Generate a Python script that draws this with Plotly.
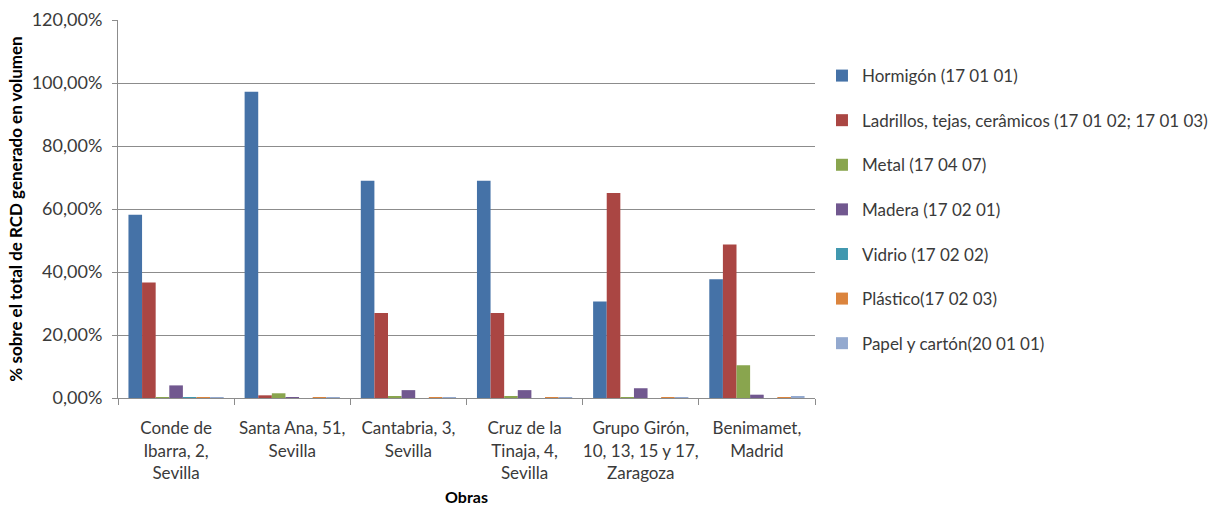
import plotly.graph_objects as go

# Obras (x categories) and share of each waste type in the total RCD volume (%)
obras = [
    "Conde de<br>Ibarra, 2,<br>Sevilla",
    "Santa Ana, 51,<br>Sevilla",
    "Cantabria, 3,<br>Sevilla",
    "Cruz de la<br>Tinaja, 4,<br>Sevilla",
    "Grupo Girón,<br>10, 13, 15 y 17,<br>Zaragoza",
    "Benimamet,<br>Madrid",
]

hormigon = [58.2, 97.2, 69.0, 69.0, 30.6, 37.7]
ladrillos = [36.7, 0.85, 27.0, 27.0, 65.1, 48.7]
metal = [0.2, 1.5, 0.5, 0.5, 0.2, 10.4]
madera = [4.0, 0.3, 2.5, 2.5, 3.1, 1.05]
vidrio = [0.2, 0.0, 0.0, 0.0, 0.0, 0.0]
plastico = [0.2, 0.2, 0.2, 0.2, 0.2, 0.3]
papel = [0.2, 0.2, 0.2, 0.2, 0.2, 0.6]

series = [
    ("Hormigón (17 01 01)", hormigon, "#4572A7"),
    ("Ladrillos, tejas, cerâmicos (17 01 02; 17 01 03)", ladrillos, "#AA4643"),
    ("Metal (17 04 07)", metal, "#89A54E"),
    ("Madera (17 02 01)", madera, "#71588F"),
    ("Vidrio (17 02 02)", vidrio, "#4198AF"),
    ("Plástico(17 02 03)", plastico, "#DB843D"),
    ("Papel y cartón(20 01 01)", papel, "#93A9CF"),
]

FONT = "Lato"
TEXT = "#3a3a3a"
GRID = "#8c8c8c"

fig = go.Figure()
for i, (name, vals, color) in enumerate(series):
    fig.add_trace(go.Bar(
        x=obras,
        y=[v / 100 for v in vals],
        name=name,
        legendgroup=f"g{i}",
        marker=dict(color=color, line=dict(width=0)),
    ))

fig.update_layout(
    width=1225,
    height=506,
    margin=dict(l=118, r=399, t=20, b=108),
    paper_bgcolor="white",
    plot_bgcolor="white",
    barmode="group",
    bargap=0.18,
    bargroupgap=0,
    separators=",.",
    font=dict(family=FONT, size=17, color=TEXT),
    legend=dict(
        x=1.01, y=0.8994, xanchor="left", yanchor="top",
        font=dict(family=FONT, size=17, color=TEXT),
        tracegroupgap=19.5,
        itemwidth=30,
        bgcolor="rgba(0,0,0,0)",
    ),
    xaxis=dict(
        type="category",
        automargin=False,
        tickangle=0,
        showline=True, linecolor=GRID, linewidth=1,
        ticks="outside", tickson="boundaries", ticklen=6, tickcolor=GRID,
        ticklabelstandoff=15,
        showgrid=False,
        tickfont=dict(family=FONT, size=17, color=TEXT),
        title=dict(text="<b>Obras</b>", font=dict(family=FONT, size=16, color="black"), standoff=10),
    ),
    yaxis=dict(
        automargin=False,
        range=[0, 1.2], dtick=0.2, tickformat=".2%",
        showline=True, linecolor=GRID, linewidth=1,
        ticks="outside", ticklen=5, tickcolor=GRID,
        ticklabelstandoff=6,
        showgrid=True, gridcolor=GRID, gridwidth=1,
        zeroline=False,
        tickfont=dict(family=FONT, size=18, color=TEXT),
        title=dict(text="<b>% sobre el total de RCD generado en volumen</b>",
                   font=dict(family=FONT, size=17, color="black"), standoff=4),
    ),
)

fig.write_html("out.html")
